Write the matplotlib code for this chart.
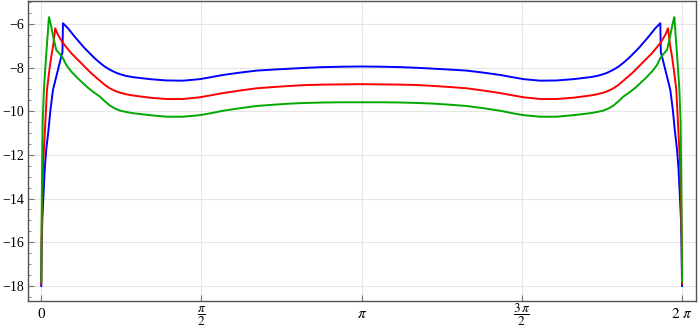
import numpy as np
import matplotlib
matplotlib.use("Agg")
import matplotlib.pyplot as plt
from matplotlib.ticker import MultipleLocator

plt.rcParams['font.family'] = ['Liberation Serif', 'DejaVu Serif']
plt.rcParams['mathtext.fontset'] = 'stix'

# blue curve
blue_x = [0.0, 0.004, 0.01, 0.02, 0.035, 0.05, 0.069, 0.09, 0.115, 0.14, 0.164,
          0.196, 0.208, 0.213, 0.262, 0.327, 0.425, 0.523, 0.575, 0.621, 0.673,
          0.735, 0.771, 0.83, 0.901, 1.065, 1.228, 1.39, 1.554, 1.652, 1.78, 1.95,
          2.11, 2.28, 2.44, 2.6, 2.76, 2.95, 3.1416,
          3.3332, 3.5232, 3.6832, 3.8432, 4.0032, 4.1732, 4.3332, 4.5032, 4.6312,
          4.7292, 4.8932, 5.0552, 5.2182, 5.3822, 5.4532, 5.5122, 5.5482, 5.6102,
          5.6622, 5.7082, 5.7602, 5.8582, 5.9562, 6.0212, 6.0702, 6.0752, 6.0872,
          6.1192, 6.1432, 6.1682, 6.1932, 6.2142, 6.2332, 6.2482, 6.2632, 6.2732,
          6.2792, 6.2832]
blue_y = [-18.0, -16.3, -15.0, -14.0, -12.6, -11.7, -10.95, -9.95, -9.02, -8.55, -8.1,
          -7.5, -7.3, -5.97, -6.2, -6.58, -7.11, -7.57, -7.78, -7.95, -8.1,
          -8.24, -8.3, -8.38, -8.44, -8.53, -8.59, -8.6, -8.53, -8.45, -8.34, -8.23,
          -8.14, -8.09, -8.05, -8.01, -7.98, -7.96, -7.95,
          -7.96, -7.98, -8.01, -8.05, -8.09, -8.14, -8.23, -8.34, -8.45,
          -8.53, -8.6, -8.59, -8.53, -8.44, -8.38, -8.3, -8.24, -8.1,
          -7.95, -7.78, -7.57, -7.11, -6.58, -6.2, -5.97, -7.3, -7.5,
          -8.1, -8.55, -9.02, -9.95, -10.95, -11.7, -12.6, -14.0, -15.0,
          -16.3, -18.0]

# red curve
red_x = [0.0, 0.003, 0.01, 0.02, 0.036, 0.056, 0.08, 0.098, 0.118, 0.137, 0.164,
         0.213, 0.294, 0.392, 0.49, 0.575, 0.625, 0.673, 0.72, 0.771, 0.84, 0.901,
         1.065, 1.228, 1.39, 1.554, 1.652, 1.78, 1.95, 2.11, 2.28, 2.44, 2.6, 2.76,
         2.95, 3.1416,
         3.3332, 3.5232, 3.6832, 3.8432, 4.0032, 4.1732, 4.3332, 4.5032, 4.6312,
         4.7292, 4.8932, 5.0552, 5.2182, 5.3822, 5.4432, 5.5122, 5.5632, 5.6102,
         5.6582, 5.7082, 5.7932, 5.8912, 5.9892, 6.0702, 6.1192, 6.1462, 6.1652,
         6.1852, 6.2032, 6.2272, 6.2472, 6.2632, 6.2732, 6.2802, 6.2832]
red_y = [-17.9, -16.0, -14.0, -12.3, -10.9, -9.02, -8.1, -7.5, -6.95, -6.2, -6.5,
         -6.88, -7.34, -7.8, -8.26, -8.6, -8.8, -8.95, -9.06, -9.15, -9.23, -9.28,
         -9.38, -9.44, -9.44, -9.36, -9.28, -9.17, -9.05, -8.95, -8.89, -8.84, -8.8, -8.78,
         -8.77, -8.76,
         -8.77, -8.78, -8.8, -8.84, -8.89, -8.95, -9.05, -9.17, -9.28,
         -9.36, -9.44, -9.44, -9.38, -9.28, -9.23, -9.15, -9.06, -8.95,
         -8.8, -8.6, -8.26, -7.8, -7.34, -6.88, -6.5, -6.2, -6.95,
         -7.5, -8.1, -9.02, -10.9, -12.3, -14.0, -16.0, -17.9]

# green curve
green_x = [0.0, 0.003, 0.008, 0.014, 0.026, 0.04, 0.055, 0.066, 0.075, 0.085, 0.098,
           0.124, 0.147, 0.19, 0.213, 0.245, 0.294, 0.36, 0.457, 0.506, 0.575, 0.625,
           0.673, 0.72, 0.771, 0.84, 0.901, 1.065, 1.228, 1.39, 1.554, 1.652, 1.78,
           1.95, 2.11, 2.28, 2.44, 2.6, 2.76, 2.95, 3.1416,
           3.3332, 3.5232, 3.6832, 3.8432, 4.0032, 4.1732, 4.3332, 4.5032, 4.6312,
           4.7292, 4.8932, 5.0552, 5.2182, 5.3822, 5.4432, 5.5122, 5.5632, 5.6102,
           5.6582, 5.7082, 5.7772, 5.8262, 5.9232, 5.9892, 6.0382, 6.0702, 6.0932,
           6.1362, 6.1592, 6.1852, 6.1982, 6.2082, 6.2172, 6.2282, 6.2432, 6.2572,
           6.2692, 6.2752, 6.2802, 6.2832]
green_y = [-17.8, -15.5, -12.8, -10.5, -9.02, -8.0, -7.0, -6.3, -5.69, -5.85, -6.12,
           -6.73, -7.19, -7.42, -7.57, -7.88, -8.18, -8.5, -8.92, -9.1, -9.33, -9.55,
           -9.74, -9.87, -9.97, -10.04, -10.09, -10.18, -10.25, -10.25, -10.18, -10.1, -9.98,
           -9.86, -9.76, -9.7, -9.65, -9.62, -9.6, -9.59, -9.59,
           -9.59, -9.6, -9.62, -9.65, -9.7, -9.76, -9.86, -9.98, -10.1,
           -10.18, -10.25, -10.25, -10.18, -10.09, -10.04, -9.97, -9.87, -9.74,
           -9.55, -9.33, -9.1, -8.92, -8.5, -8.18, -7.88, -7.57, -7.42,
           -7.19, -6.73, -6.12, -5.85, -5.69, -6.3, -7.0, -8.0, -9.02,
           -10.5, -12.8, -15.5, -17.8]

x_ticks = [0, np.pi / 2, np.pi, 3 * np.pi / 2, 2 * np.pi]
x_labels = ['0', r'$\dfrac{\pi}{2}$', r'$\pi$', r'$\dfrac{3\,\pi}{2}$', r'$2\ \pi$']
y_ticks = [-18, -16, -14, -12, -10, -8, -6]

fig = plt.figure(figsize=(6.98, 3.30), dpi=100)
ax = fig.add_axes([0.0401, 0.088, 0.957, 0.909])

ax.plot(blue_x, blue_y, color='#0000ff', lw=1.4, zorder=3)
ax.plot(red_x, red_y, color='#ff0000', lw=1.4, zorder=3)
ax.plot(green_x, green_y, color='#00a800', lw=1.4, zorder=3)

ax.set_xlim(-0.13, 6.42)
ax.set_ylim(-18.69, -4.95)

ax.set_xticks(x_ticks)
ax.set_xticklabels(x_labels, fontsize=11, va='baseline')
for lab in ax.get_xticklabels():
    if 'frac' in lab.get_text():
        lab.set_fontsize(9.5)
ax.set_yticks(y_ticks)
ax.set_yticklabels([f'\u2212{abs(v)}' for v in y_ticks], fontsize=10)
ax.yaxis.set_minor_locator(MultipleLocator(0.5))

ax.grid(True, color='#e6e6e6', lw=0.8, zorder=0)
ax.tick_params(axis='both', which='both', direction='in', color='#777777',
               top=False, right=False)
ax.tick_params(axis='y', which='major', length=4, width=0.8, pad=3)
ax.tick_params(axis='y', which='minor', length=2.2, width=0.6)
ax.tick_params(axis='x', which='major', length=4, width=0.8, pad=12.2)

for s in ax.spines.values():
    s.set_color('#555555')
    s.set_linewidth(1.0)

fig.savefig('out.png', dpi=100)
